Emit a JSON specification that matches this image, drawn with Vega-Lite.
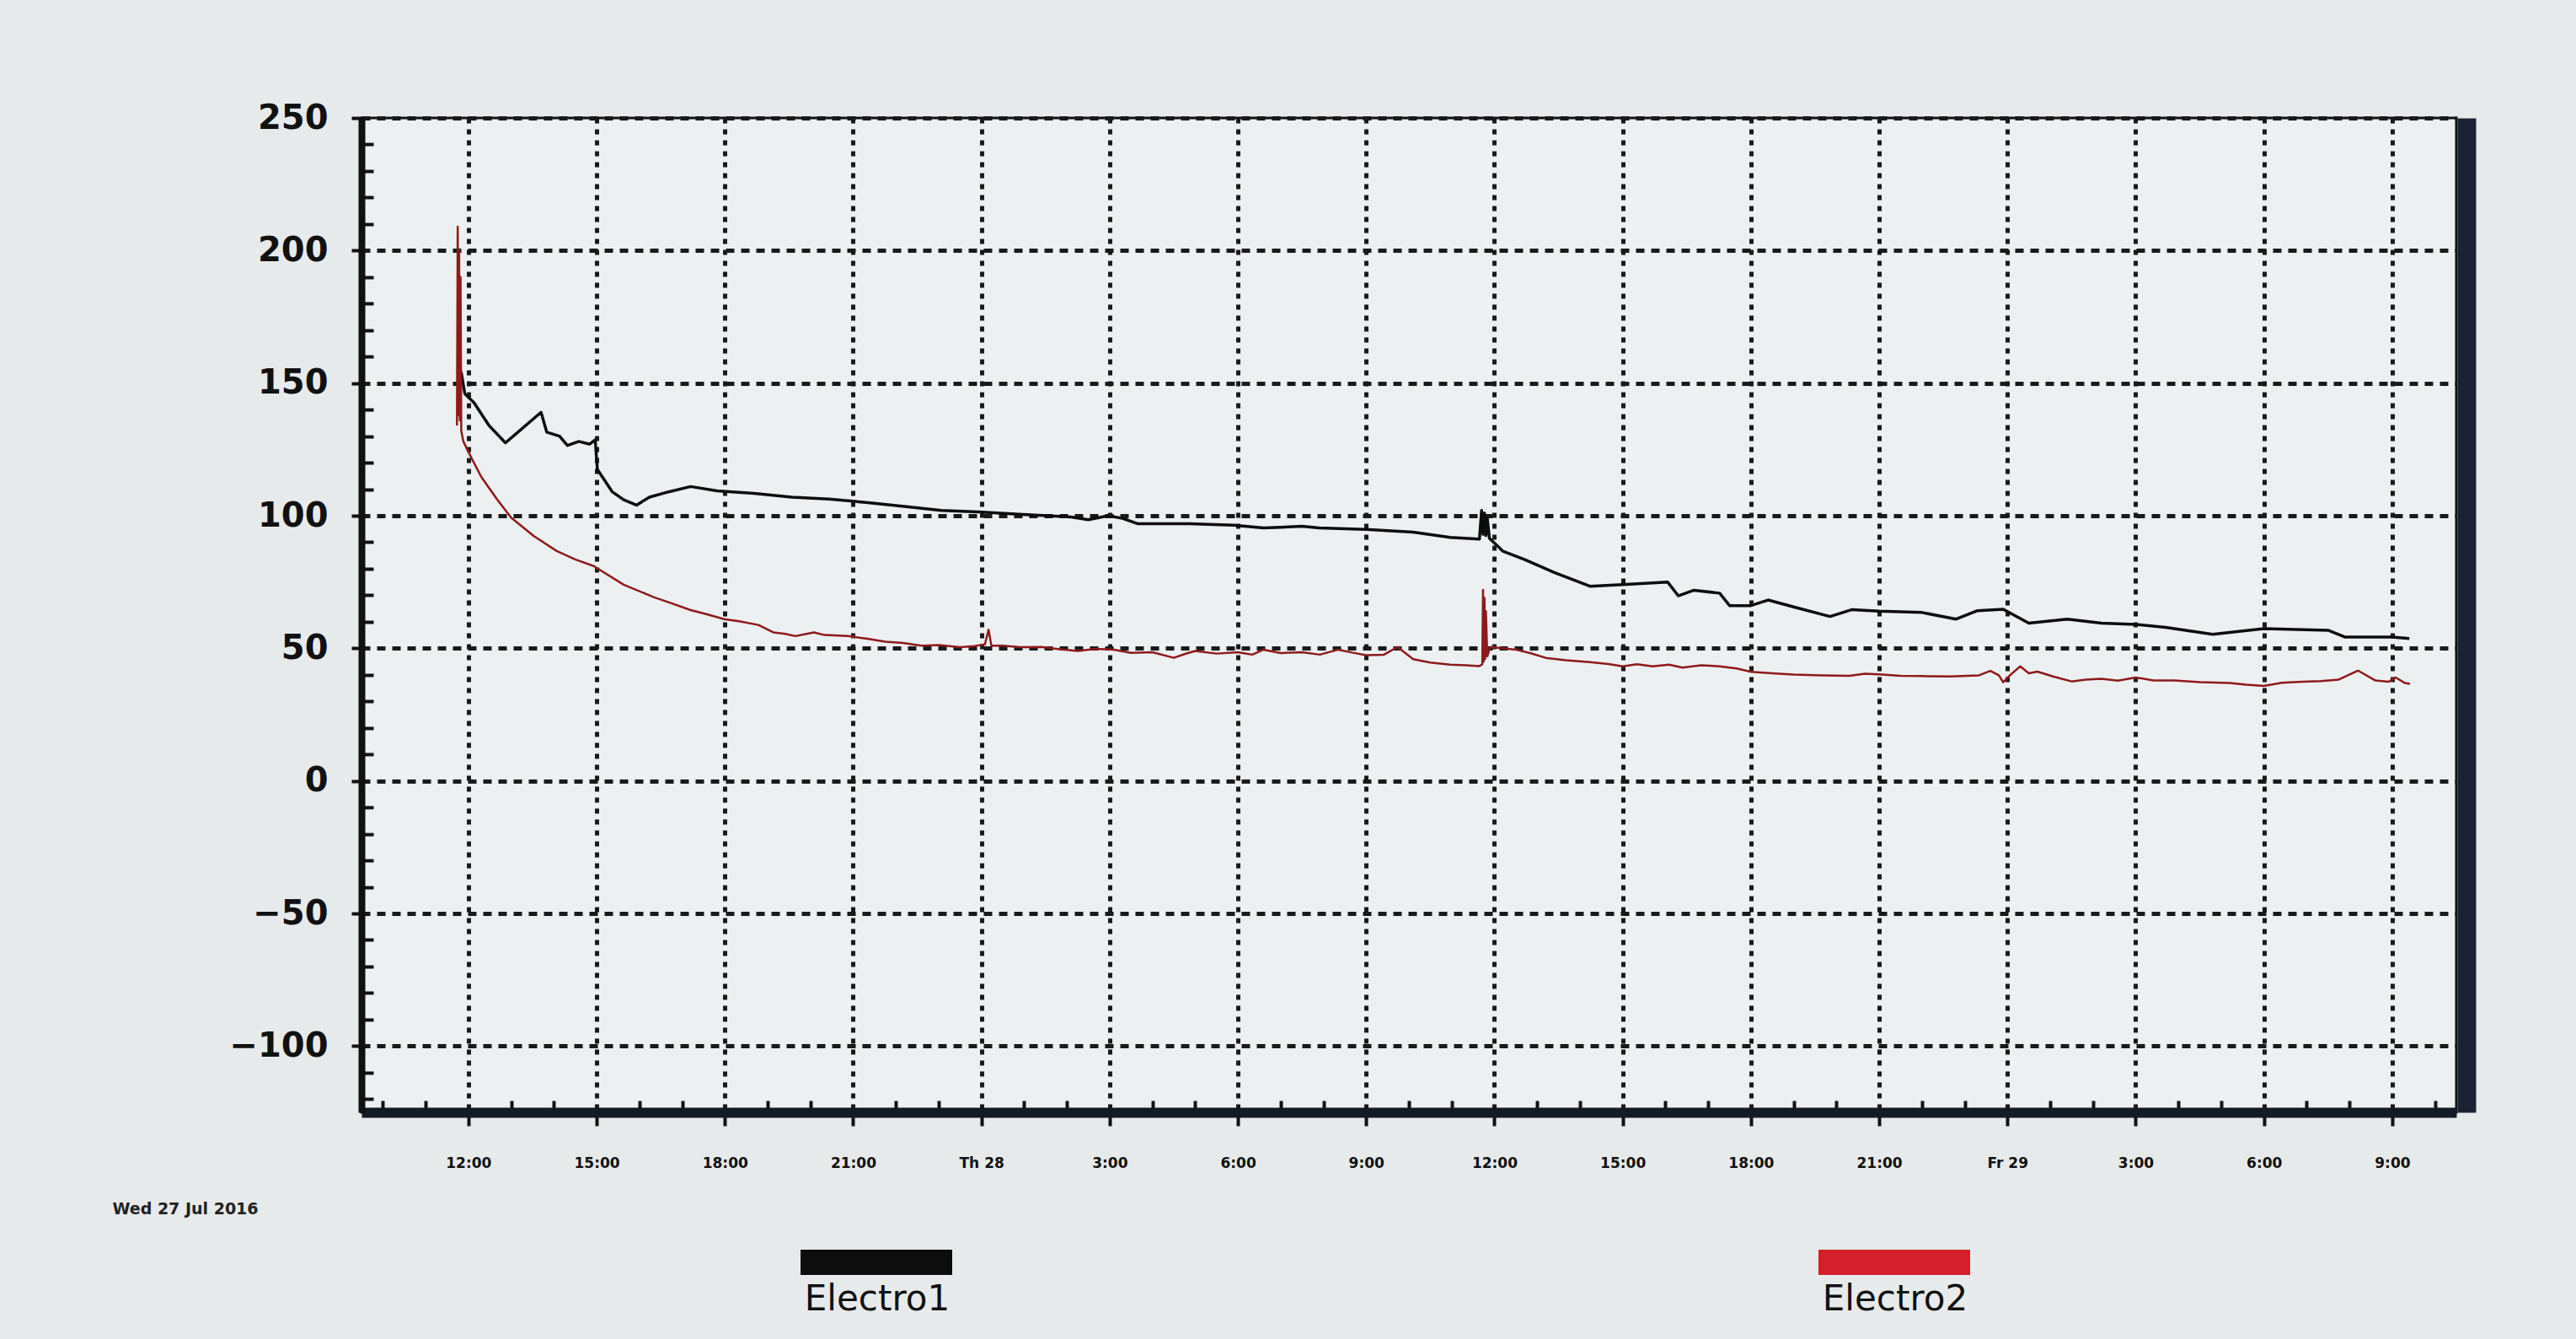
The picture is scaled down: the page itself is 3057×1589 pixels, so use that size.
{
  "$schema": "https://vega.github.io/schema/vega-lite/v6.json",
  "autosize": {"type": "none"},
  "width": 2486,
  "height": 1180,
  "padding": {"left": 429, "top": 140, "right": 142, "bottom": 269},
  "background": "#e7eaeb",
  "config": {
    "view": {"fill": "#edf0f1", "stroke": "#111111", "strokeWidth": 3},
    "legend": {
      "orient": "none", "legendX": 506, "legendY": 1253,
      "direction": "horizontal", "columns": 2, "columnPadding": 908,
      "padding": 0,
      "symbolType": "M-1,0H1", "symbolSize": 32400, "symbolStrokeWidth": 30,
      "labelAlign": "center", "labelOffset": -104, "labelBaseline": "middle",
      "labelFont": "DejaVu Sans", "labelFontSize": 42, "labelColor": "#111111", "labelLimit": 0
    }
  },
  "data": {"values": [
    {"t": "2016-07-27T11:47", "v": 150, "s": "Electro1"},
    {"t": "2016-07-27T11:50", "v": 154, "s": "Electro1"},
    {"t": "2016-07-27T11:55", "v": 146, "s": "Electro1"},
    {"t": "2016-07-27T12:08", "v": 142.6, "s": "Electro1"},
    {"t": "2016-07-27T12:29", "v": 134, "s": "Electro1"},
    {"t": "2016-07-27T12:52", "v": 127.5, "s": "Electro1"},
    {"t": "2016-07-27T13:16", "v": 133, "s": "Electro1"},
    {"t": "2016-07-27T13:42", "v": 139, "s": "Electro1"},
    {"t": "2016-07-27T13:50", "v": 131.5, "s": "Electro1"},
    {"t": "2016-07-27T14:08", "v": 130, "s": "Electro1"},
    {"t": "2016-07-27T14:19", "v": 126.5, "s": "Electro1"},
    {"t": "2016-07-27T14:35", "v": 128, "s": "Electro1"},
    {"t": "2016-07-27T14:50", "v": 127, "s": "Electro1"},
    {"t": "2016-07-27T14:58", "v": 128.6, "s": "Electro1"},
    {"t": "2016-07-27T15:01", "v": 117.5, "s": "Electro1"},
    {"t": "2016-07-27T15:22", "v": 109, "s": "Electro1"},
    {"t": "2016-07-27T15:38", "v": 106, "s": "Electro1"},
    {"t": "2016-07-27T15:56", "v": 104, "s": "Electro1"},
    {"t": "2016-07-27T16:14", "v": 107, "s": "Electro1"},
    {"t": "2016-07-27T16:41", "v": 109, "s": "Electro1"},
    {"t": "2016-07-27T17:12", "v": 111, "s": "Electro1"},
    {"t": "2016-07-27T17:49", "v": 109.4, "s": "Electro1"},
    {"t": "2016-07-27T18:41", "v": 108.4, "s": "Electro1"},
    {"t": "2016-07-27T19:34", "v": 107, "s": "Electro1"},
    {"t": "2016-07-27T20:26", "v": 106.3, "s": "Electro1"},
    {"t": "2016-07-27T21:18", "v": 105, "s": "Electro1"},
    {"t": "2016-07-27T22:12", "v": 103.5, "s": "Electro1"},
    {"t": "2016-07-27T23:04", "v": 102, "s": "Electro1"},
    {"t": "2016-07-27T23:56", "v": 101.4, "s": "Electro1"},
    {"t": "2016-07-28T00:58", "v": 100.5, "s": "Electro1"},
    {"t": "2016-07-28T02:06", "v": 99.5, "s": "Electro1"},
    {"t": "2016-07-28T02:30", "v": 98.5, "s": "Electro1"},
    {"t": "2016-07-28T02:58", "v": 100, "s": "Electro1"},
    {"t": "2016-07-28T03:18", "v": 99, "s": "Electro1"},
    {"t": "2016-07-28T03:39", "v": 97, "s": "Electro1"},
    {"t": "2016-07-28T04:52", "v": 97, "s": "Electro1"},
    {"t": "2016-07-28T05:54", "v": 96.4, "s": "Electro1"},
    {"t": "2016-07-28T06:36", "v": 95.4, "s": "Electro1"},
    {"t": "2016-07-28T07:30", "v": 96, "s": "Electro1"},
    {"t": "2016-07-28T07:54", "v": 95.4, "s": "Electro1"},
    {"t": "2016-07-28T09:00", "v": 94.8, "s": "Electro1"},
    {"t": "2016-07-28T10:06", "v": 93.8, "s": "Electro1"},
    {"t": "2016-07-28T10:58", "v": 91.8, "s": "Electro1"},
    {"t": "2016-07-28T11:39", "v": 91.2, "s": "Electro1"},
    {"t": "2016-07-28T11:42", "v": 102, "s": "Electro1"},
    {"t": "2016-07-28T11:44", "v": 93, "s": "Electro1"},
    {"t": "2016-07-28T11:46", "v": 101, "s": "Electro1"},
    {"t": "2016-07-28T11:48", "v": 92.5, "s": "Electro1"},
    {"t": "2016-07-28T11:50", "v": 99, "s": "Electro1"},
    {"t": "2016-07-28T11:53", "v": 91.5, "s": "Electro1"},
    {"t": "2016-07-28T12:12", "v": 86.6, "s": "Electro1"},
    {"t": "2016-07-28T12:42", "v": 83.5, "s": "Electro1"},
    {"t": "2016-07-28T13:24", "v": 78.6, "s": "Electro1"},
    {"t": "2016-07-28T14:14", "v": 73.4, "s": "Electro1"},
    {"t": "2016-07-28T15:00", "v": 74, "s": "Electro1"},
    {"t": "2016-07-28T16:03", "v": 75, "s": "Electro1"},
    {"t": "2016-07-28T16:18", "v": 69.8, "s": "Electro1"},
    {"t": "2016-07-28T16:40", "v": 71.9, "s": "Electro1"},
    {"t": "2016-07-28T17:16", "v": 70.8, "s": "Electro1"},
    {"t": "2016-07-28T17:30", "v": 66.1, "s": "Electro1"},
    {"t": "2016-07-28T18:00", "v": 66.1, "s": "Electro1"},
    {"t": "2016-07-28T18:24", "v": 68.2, "s": "Electro1"},
    {"t": "2016-07-28T19:00", "v": 65.6, "s": "Electro1"},
    {"t": "2016-07-28T19:51", "v": 62, "s": "Electro1"},
    {"t": "2016-07-28T20:22", "v": 64.6, "s": "Electro1"},
    {"t": "2016-07-28T21:00", "v": 64, "s": "Electro1"},
    {"t": "2016-07-28T22:00", "v": 63.5, "s": "Electro1"},
    {"t": "2016-07-28T22:48", "v": 61, "s": "Electro1"},
    {"t": "2016-07-28T23:18", "v": 64.2, "s": "Electro1"},
    {"t": "2016-07-28T23:54", "v": 64.7, "s": "Electro1"},
    {"t": "2016-07-29T00:30", "v": 59.5, "s": "Electro1"},
    {"t": "2016-07-29T01:24", "v": 61, "s": "Electro1"},
    {"t": "2016-07-29T02:12", "v": 59.5, "s": "Electro1"},
    {"t": "2016-07-29T03:00", "v": 59, "s": "Electro1"},
    {"t": "2016-07-29T03:42", "v": 57.9, "s": "Electro1"},
    {"t": "2016-07-29T04:48", "v": 55.3, "s": "Electro1"},
    {"t": "2016-07-29T06:00", "v": 57.4, "s": "Electro1"},
    {"t": "2016-07-29T07:30", "v": 56.8, "s": "Electro1"},
    {"t": "2016-07-29T07:54", "v": 54.2, "s": "Electro1"},
    {"t": "2016-07-29T09:00", "v": 54.2, "s": "Electro1"},
    {"t": "2016-07-29T09:24", "v": 53.7, "s": "Electro1"},

    {"t": "2016-07-27T11:44", "v": 134, "s": "Electro2"},
    {"t": "2016-07-27T11:45", "v": 209, "s": "Electro2"},
    {"t": "2016-07-27T11:46", "v": 138, "s": "Electro2"},
    {"t": "2016-07-27T11:47", "v": 200, "s": "Electro2"},
    {"t": "2016-07-27T11:48", "v": 136, "s": "Electro2"},
    {"t": "2016-07-27T11:49", "v": 190, "s": "Electro2"},
    {"t": "2016-07-27T11:50", "v": 132, "s": "Electro2"},
    {"t": "2016-07-27T11:53", "v": 128, "s": "Electro2"},
    {"t": "2016-07-27T12:02", "v": 123, "s": "Electro2"},
    {"t": "2016-07-27T12:18", "v": 114.7, "s": "Electro2"},
    {"t": "2016-07-27T12:40", "v": 106.3, "s": "Electro2"},
    {"t": "2016-07-27T13:00", "v": 99.3, "s": "Electro2"},
    {"t": "2016-07-27T13:32", "v": 92.3, "s": "Electro2"},
    {"t": "2016-07-27T14:04", "v": 86.7, "s": "Electro2"},
    {"t": "2016-07-27T14:30", "v": 83.5, "s": "Electro2"},
    {"t": "2016-07-27T14:56", "v": 81, "s": "Electro2"},
    {"t": "2016-07-27T15:38", "v": 74, "s": "Electro2"},
    {"t": "2016-07-27T16:20", "v": 69.3, "s": "Electro2"},
    {"t": "2016-07-27T16:45", "v": 67, "s": "Electro2"},
    {"t": "2016-07-27T17:12", "v": 64.4, "s": "Electro2"},
    {"t": "2016-07-27T17:35", "v": 62.8, "s": "Electro2"},
    {"t": "2016-07-27T17:59", "v": 61, "s": "Electro2"},
    {"t": "2016-07-27T18:20", "v": 60.2, "s": "Electro2"},
    {"t": "2016-07-27T18:47", "v": 58.8, "s": "Electro2"},
    {"t": "2016-07-27T19:08", "v": 56, "s": "Electro2"},
    {"t": "2016-07-27T19:25", "v": 55.4, "s": "Electro2"},
    {"t": "2016-07-27T19:39", "v": 54.6, "s": "Electro2"},
    {"t": "2016-07-27T19:50", "v": 55.2, "s": "Electro2"},
    {"t": "2016-07-27T20:05", "v": 56, "s": "Electro2"},
    {"t": "2016-07-27T20:20", "v": 55, "s": "Electro2"},
    {"t": "2016-07-27T20:53", "v": 54.6, "s": "Electro2"},
    {"t": "2016-07-27T21:20", "v": 53.6, "s": "Electro2"},
    {"t": "2016-07-27T21:45", "v": 52.5, "s": "Electro2"},
    {"t": "2016-07-27T22:10", "v": 52, "s": "Electro2"},
    {"t": "2016-07-27T22:36", "v": 51, "s": "Electro2"},
    {"t": "2016-07-27T23:00", "v": 51.2, "s": "Electro2"},
    {"t": "2016-07-27T23:30", "v": 50.4, "s": "Electro2"},
    {"t": "2016-07-27T23:50", "v": 50.8, "s": "Electro2"},
    {"t": "2016-07-28T00:05", "v": 51.5, "s": "Electro2"},
    {"t": "2016-07-28T00:10", "v": 57, "s": "Electro2"},
    {"t": "2016-07-28T00:14", "v": 51, "s": "Electro2"},
    {"t": "2016-07-28T00:30", "v": 51, "s": "Electro2"},
    {"t": "2016-07-28T00:55", "v": 50.4, "s": "Electro2"},
    {"t": "2016-07-28T01:24", "v": 50.5, "s": "Electro2"},
    {"t": "2016-07-28T01:50", "v": 49.6, "s": "Electro2"},
    {"t": "2016-07-28T02:16", "v": 49, "s": "Electro2"},
    {"t": "2016-07-28T02:40", "v": 49.8, "s": "Electro2"},
    {"t": "2016-07-28T03:06", "v": 49.5, "s": "Electro2"},
    {"t": "2016-07-28T03:30", "v": 48.3, "s": "Electro2"},
    {"t": "2016-07-28T04:00", "v": 48.5, "s": "Electro2"},
    {"t": "2016-07-28T04:30", "v": 46.4, "s": "Electro2"},
    {"t": "2016-07-28T04:45", "v": 47.8, "s": "Electro2"},
    {"t": "2016-07-28T05:00", "v": 49, "s": "Electro2"},
    {"t": "2016-07-28T05:30", "v": 48, "s": "Electro2"},
    {"t": "2016-07-28T06:00", "v": 48.5, "s": "Electro2"},
    {"t": "2016-07-28T06:20", "v": 47.6, "s": "Electro2"},
    {"t": "2016-07-28T06:36", "v": 49.5, "s": "Electro2"},
    {"t": "2016-07-28T07:00", "v": 48.2, "s": "Electro2"},
    {"t": "2016-07-28T07:30", "v": 48.5, "s": "Electro2"},
    {"t": "2016-07-28T07:55", "v": 47.6, "s": "Electro2"},
    {"t": "2016-07-28T08:21", "v": 49.5, "s": "Electro2"},
    {"t": "2016-07-28T08:40", "v": 48.4, "s": "Electro2"},
    {"t": "2016-07-28T09:00", "v": 47.4, "s": "Electro2"},
    {"t": "2016-07-28T09:25", "v": 47.6, "s": "Electro2"},
    {"t": "2016-07-28T09:44", "v": 50.5, "s": "Electro2"},
    {"t": "2016-07-28T10:06", "v": 45.9, "s": "Electro2"},
    {"t": "2016-07-28T10:30", "v": 44.6, "s": "Electro2"},
    {"t": "2016-07-28T10:58", "v": 43.8, "s": "Electro2"},
    {"t": "2016-07-28T11:20", "v": 43.6, "s": "Electro2"},
    {"t": "2016-07-28T11:39", "v": 43.3, "s": "Electro2"},
    {"t": "2016-07-28T11:43", "v": 44, "s": "Electro2"},
    {"t": "2016-07-28T11:44", "v": 72, "s": "Electro2"},
    {"t": "2016-07-28T11:45", "v": 45, "s": "Electro2"},
    {"t": "2016-07-28T11:46", "v": 69, "s": "Electro2"},
    {"t": "2016-07-28T11:47", "v": 46, "s": "Electro2"},
    {"t": "2016-07-28T11:48", "v": 64, "s": "Electro2"},
    {"t": "2016-07-28T11:50", "v": 47, "s": "Electro2"},
    {"t": "2016-07-28T11:54", "v": 50.5, "s": "Electro2"},
    {"t": "2016-07-28T12:30", "v": 49.5, "s": "Electro2"},
    {"t": "2016-07-28T12:50", "v": 48.2, "s": "Electro2"},
    {"t": "2016-07-28T13:12", "v": 46.4, "s": "Electro2"},
    {"t": "2016-07-28T13:40", "v": 45.5, "s": "Electro2"},
    {"t": "2016-07-28T14:14", "v": 44.8, "s": "Electro2"},
    {"t": "2016-07-28T14:40", "v": 44.1, "s": "Electro2"},
    {"t": "2016-07-28T15:00", "v": 43.2, "s": "Electro2"},
    {"t": "2016-07-28T15:20", "v": 44, "s": "Electro2"},
    {"t": "2016-07-28T15:42", "v": 43.2, "s": "Electro2"},
    {"t": "2016-07-28T16:05", "v": 43.8, "s": "Electro2"},
    {"t": "2016-07-28T16:24", "v": 42.7, "s": "Electro2"},
    {"t": "2016-07-28T16:50", "v": 43.6, "s": "Electro2"},
    {"t": "2016-07-28T17:16", "v": 43.2, "s": "Electro2"},
    {"t": "2016-07-28T17:40", "v": 42.4, "s": "Electro2"},
    {"t": "2016-07-28T18:00", "v": 41.1, "s": "Electro2"},
    {"t": "2016-07-28T18:30", "v": 40.6, "s": "Electro2"},
    {"t": "2016-07-28T19:00", "v": 40.1, "s": "Electro2"},
    {"t": "2016-07-28T19:40", "v": 39.8, "s": "Electro2"},
    {"t": "2016-07-28T20:18", "v": 39.6, "s": "Electro2"},
    {"t": "2016-07-28T20:40", "v": 40.4, "s": "Electro2"},
    {"t": "2016-07-28T21:00", "v": 40.2, "s": "Electro2"},
    {"t": "2016-07-28T21:30", "v": 39.6, "s": "Electro2"},
    {"t": "2016-07-28T22:00", "v": 39.5, "s": "Electro2"},
    {"t": "2016-07-28T22:40", "v": 39.4, "s": "Electro2"},
    {"t": "2016-07-28T23:20", "v": 39.8, "s": "Electro2"},
    {"t": "2016-07-28T23:36", "v": 41.5, "s": "Electro2"},
    {"t": "2016-07-28T23:48", "v": 39.8, "s": "Electro2"},
    {"t": "2016-07-28T23:54", "v": 37.2, "s": "Electro2"},
    {"t": "2016-07-29T00:05", "v": 40.2, "s": "Electro2"},
    {"t": "2016-07-29T00:18", "v": 43.2, "s": "Electro2"},
    {"t": "2016-07-29T00:30", "v": 40.6, "s": "Electro2"},
    {"t": "2016-07-29T00:42", "v": 41.2, "s": "Electro2"},
    {"t": "2016-07-29T01:05", "v": 39.3, "s": "Electro2"},
    {"t": "2016-07-29T01:30", "v": 37.5, "s": "Electro2"},
    {"t": "2016-07-29T01:50", "v": 38.2, "s": "Electro2"},
    {"t": "2016-07-29T02:12", "v": 38.5, "s": "Electro2"},
    {"t": "2016-07-29T02:35", "v": 37.8, "s": "Electro2"},
    {"t": "2016-07-29T03:00", "v": 39, "s": "Electro2"},
    {"t": "2016-07-29T03:25", "v": 37.9, "s": "Electro2"},
    {"t": "2016-07-29T03:54", "v": 37.9, "s": "Electro2"},
    {"t": "2016-07-29T04:30", "v": 37.2, "s": "Electro2"},
    {"t": "2016-07-29T05:12", "v": 36.9, "s": "Electro2"},
    {"t": "2016-07-29T05:35", "v": 36.3, "s": "Electro2"},
    {"t": "2016-07-29T06:00", "v": 35.8, "s": "Electro2"},
    {"t": "2016-07-29T06:25", "v": 37, "s": "Electro2"},
    {"t": "2016-07-29T06:54", "v": 37.4, "s": "Electro2"},
    {"t": "2016-07-29T07:20", "v": 37.6, "s": "Electro2"},
    {"t": "2016-07-29T07:45", "v": 38.2, "s": "Electro2"},
    {"t": "2016-07-29T08:12", "v": 41.6, "s": "Electro2"},
    {"t": "2016-07-29T08:36", "v": 37.9, "s": "Electro2"},
    {"t": "2016-07-29T08:55", "v": 37.4, "s": "Electro2"},
    {"t": "2016-07-29T09:05", "v": 39, "s": "Electro2"},
    {"t": "2016-07-29T09:18", "v": 36.9, "s": "Electro2"},
    {"t": "2016-07-29T09:25", "v": 36.6, "s": "Electro2"}
  ]},
  "encoding": {
    "x": {
      "field": "t", "type": "temporal",
      "scale": {"domain": [{"year": 2016, "month": 7, "date": 27, "hours": 9, "minutes": 30}, {"year": 2016, "month": 7, "date": 29, "hours": 10, "minutes": 30}]},
      "axis": {
        "tickCount": 49,
        "labelExpr": "hours(datum.value) % 3 === 0 ? (hours(datum.value) === 0 ? (day(datum.value) === 4 ? 'Th ' : 'Fr ') + date(datum.value) : hours(datum.value) + ':00') : ''",
        "labelFont": "DejaVu Sans", "labelFontSize": 17, "labelFontWeight": "bold", "labelColor": "#111111",
        "labelPadding": 36, "labelOverlap": false, "labelFlush": false,
        "tickSize": {"condition": {"test": "hours(datum.value) % 3 === 0", "value": 16}, "value": -14},
        "tickWidth": 4, "tickColor": "#111111",
        "grid": true,
        "gridOpacity": {"condition": {"test": "hours(datum.value) % 3 === 0", "value": 1}, "value": 0},
        "gridDash": [6, 7], "gridWidth": 5, "gridColor": "#1a1a1a",
        "domainWidth": 12, "domainColor": "#141a28",
        "title": "Wed 27 Jul 2016", "titleX": -296, "titleY": 105, "titleAlign": "left",
        "titleFont": "DejaVu Sans", "titleFontSize": 19, "titleFontWeight": "bold", "titleColor": "#222222"
      }
    }
  },
  "layer": [
    {
      "encoding": {
        "y": {
          "field": "v", "type": "quantitative",
          "scale": {"domain": [-125, 250], "nice": false, "zero": false},
          "axis": {
            "values": [-120, -110, -100, -90, -80, -70, -60, -50, -40, -30, -20, -10, 0, 10, 20, 30, 40, 50, 60, 70, 80, 90, 100, 110, 120, 130, 140, 150, 160, 170, 180, 190, 200, 210, 220, 230, 240, 250],
            "labelExpr": "datum.value % 50 === 0 ? datum.label : ''",
            "labelFont": "DejaVu Sans", "labelFontSize": 40, "labelFontWeight": "bold", "labelColor": "#111111",
            "labelPadding": 28, "labelOverlap": false,
            "tickSize": {"condition": {"test": "datum.value % 50 === 0", "value": 12}, "value": -14},
            "tickWidth": 4, "tickColor": "#111111",
            "grid": true,
            "gridOpacity": {"condition": {"test": "datum.value % 50 === 0", "value": 1}, "value": 0},
            "gridDash": [10, 8], "gridWidth": 5, "gridColor": "#1a1a1a",
            "domainWidth": 8, "domainColor": "#111111",
            "title": null
          }
        }
      },
      "layer": [
        {
          "transform": [{"filter": "datum.s === 'Electro1'"}],
          "mark": {"type": "line", "interpolate": "linear", "strokeJoin": "round", "strokeWidth": 3.5},
          "encoding": {
            "color": {
              "field": "s", "type": "nominal",
              "scale": {"domain": ["Electro1", "Electro2"], "range": ["#0d0d0d", "#d21f2b"]},
              "legend": {"title": null, "encode": {"labels": {"update": {"dy": {"value": 44}}}}}
            }
          }
        },
        {
          "transform": [{"filter": "datum.s === 'Electro2'"}],
          "mark": {"type": "line", "interpolate": "linear", "strokeJoin": "round", "strokeWidth": 2.5, "stroke": "#8e1a1a"}
        }
      ]
    },
    {
      "mark": {"type": "rule", "opacity": 0},
      "encoding": {
        "x": null,
        "y": {
          "field": "v", "type": "quantitative",
          "scale": {"domain": [-125, 250], "nice": false, "zero": false},
          "axis": {"orient": "right", "labels": false, "ticks": false, "grid": false, "domainWidth": 22, "domainColor": "#1b2235", "offset": 12, "title": null}
        }
      }
    }
  ],
  "resolve": {"axis": {"y": "independent"}}
}
